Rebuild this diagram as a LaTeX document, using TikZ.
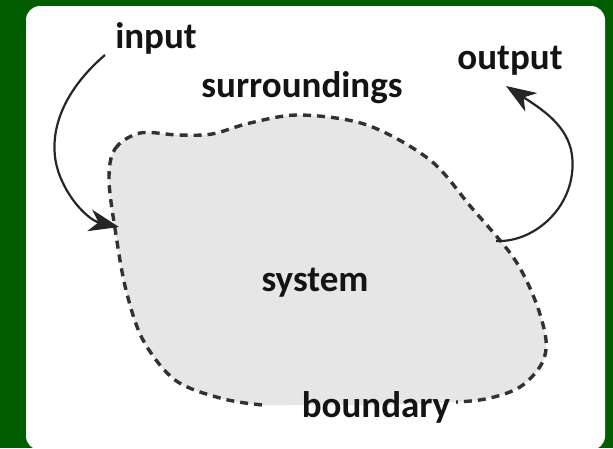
\documentclass[tikz,border=0pt]{standalone}
\usepackage{fontspec}
\setmainfont{Carlito}
\usetikzlibrary{arrows.meta}

\definecolor{bggreen}{RGB}{0,94,0}
\definecolor{blobgray}{RGB}{230,230,230}
\definecolor{edgegray}{RGB}{50,50,50}

\begin{document}
\begin{tikzpicture}[x=1pt, y=-1pt,
    lbl/.style={font=\fontsize{37}{40}\selectfont\bfseries, inner sep=0pt, text=black!92},
    flow/.style={-{Stealth[length=30pt,width=22pt,inset=9pt]}, line width=2.2pt, black!85},
    edgeline/.style={draw=edgegray, line width=3.4pt, dash pattern=on 8pt off 6pt}]

    % Frame
    \useasboundingbox (0,0) rectangle (613,448);
    \fill[bggreen] (0,0) rectangle (613,448);
    \fill[white, rounded corners=14pt] (26,6) rectangle (605,450);

    % System region
    \path[save path=\blobpath]
      plot[smooth cycle, tension=0.55] coordinates {
        (109,180) (115,149) (140,133) (178,135) (212,134) (250,123)
        (300,115) (367,125) (430,160) (471,207) (513,257) (535,300)
        (546,340) (541,365) (520,387) (490,398) (457,402) (380,405)
        (300,405) (263,405) (220,398) (175,380) (143,340) (126,290)
        (116,235)};
    \fill[blobgray, use path=\blobpath];

    % Boundary (open under its label)
    \begin{scope}
      \clip (0,0) rectangle (613,395) (0,395) rectangle (265,448)
            (456,395) rectangle (613,448);
      \draw[edgeline, use path=\blobpath];
    \end{scope}

    % Labels
    \node[lbl] (input) at (156,38.5) {input};
    \node[lbl] (output) at (510,61) {output};
    \node[lbl] (surroundings) at (302,88) {surroundings};
    \node[lbl] (system) at (315,283) {system};
    \node[lbl] (boundary) at (376,407) {boundary};

    % Arrow ends
    \coordinate (in-start) at (105,55);
    \coordinate (in-end) at (119,227);
    \coordinate (out-start) at (496,241);
    \coordinate (out-end) at (506,86);

    % Input and output
    \draw[flow] (in-start) .. controls (72,83) and (48,122) .. (56,163)
      .. controls (63,195) and (88,220) .. (in-end);
    \draw[flow] (out-start) .. controls (535,243) and (578,205) .. (572,155)
      .. controls (568,125) and (540,108) .. (out-end);
\end{tikzpicture}
\end{document}
